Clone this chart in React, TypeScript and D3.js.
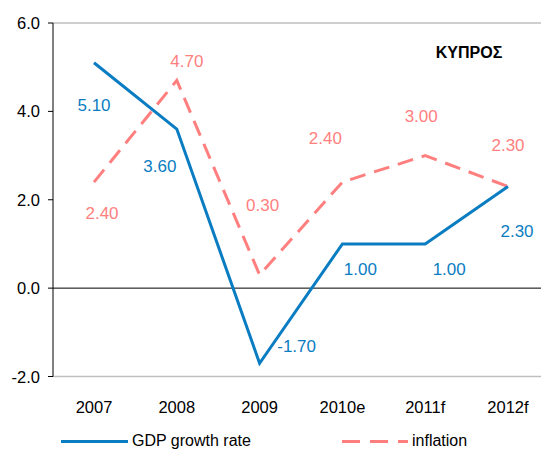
import React from "react";
import * as d3 from "d3";

const categories = ["2007", "2008", "2009", "2010e", "2011f", "2012f"];
const gdpGrowth = [5.1, 3.6, -1.7, 1.0, 1.0, 2.3];
const inflation = [2.4, 4.7, 0.3, 2.4, 3.0, 2.3];
const yTicks = [-2, 0, 2, 4, 6];
const seriesNames = ["GDP growth rate", "inflation"];
const title = "ΚΥΠΡΟΣ";

// label offsets (styling) relative to each point
const gdpLabelOffsets: [number, number][] = [
  [0, 43], [-17, 37], [37, -17], [18, 26], [24, 26], [9, 45],
];
const infLabelOffsets: [number, number][] = [
  [8, 31], [10, -19], [3, -69], [-17, -44], [-4, -39], [0, -41],
];

const W = 541;
const H = 457;
const BLUE = "#0A7DC2";
const PINK = "#FF7F7F";
const FONT = "'Liberation Sans', Arial, sans-serif";

export default function App() {
  const x = d3.scalePoint<string>().domain(categories).range([94, 508]);
  const y = d3.scaleLinear().domain([-2, 6]).range([376.5, 23]);
  const axisX = 53;
  const plotRight = 541;

  const line = d3
    .line<number>()
    .x((_, i) => x(categories[i]) as number)
    .y((d) => y(d));

  return (
    <svg
      width={W}
      height={H}
      style={{ position: "absolute", left: 0, top: 0, background: "#fff" }}
      fontFamily={FONT}
    >
      {/* gridlines at top and bottom */}
      <line x1={axisX} x2={plotRight} y1={y(6)} y2={y(6)} stroke="#BFBFBF" strokeWidth={1.5} />
      <line x1={axisX} x2={plotRight} y1={y(-2)} y2={y(-2)} stroke="#BFBFBF" strokeWidth={1.5} />
      {/* zero line */}
      <line x1={axisX} x2={plotRight} y1={y(0)} y2={y(0)} stroke="#000" strokeWidth={1} />
      {/* y axis */}
      <line x1={axisX} x2={axisX} y1={y(6)} y2={y(-2)} stroke="#000" strokeWidth={1} />
      {yTicks.map((t) => (
        <g key={t}>
          <line x1={axisX - 5} x2={axisX} y1={y(t)} y2={y(t)} stroke="#000" strokeWidth={1} />
          <text
            x={40}
            y={y(t)}
            textAnchor="end"
            dominantBaseline="central"
            fontSize={16.5}
            fill="#000"
          >
            {t.toFixed(1)}
          </text>
        </g>
      ))}
      {/* category labels */}
      {categories.map((c) => (
        <text
          key={c}
          x={x(c)}
          y={407}
          textAnchor="middle"
          dominantBaseline="central"
          fontSize={16.5}
          fill="#000"
        >
          {c}
        </text>
      ))}
      {/* series lines */}
      <path d={line(inflation) || ""} fill="none" stroke={PINK} strokeWidth={3} strokeDasharray="16,9" />
      <path d={line(gdpGrowth) || ""} fill="none" stroke={BLUE} strokeWidth={3} />
      {/* data labels */}
      {gdpGrowth.map((v, i) => (
        <text
          key={"g" + i}
          x={(x(categories[i]) as number) + gdpLabelOffsets[i][0]}
          y={y(v) + gdpLabelOffsets[i][1]}
          textAnchor="middle"
          dominantBaseline="central"
          fontSize={17}
          fill={BLUE}
        >
          {v.toFixed(2)}
        </text>
      ))}
      {inflation.map((v, i) => (
        <text
          key={"p" + i}
          x={(x(categories[i]) as number) + infLabelOffsets[i][0]}
          y={y(v) + infLabelOffsets[i][1]}
          textAnchor="middle"
          dominantBaseline="central"
          fontSize={17}
          fill={PINK}
        >
          {v.toFixed(2)}
        </text>
      ))}
      {/* title */}
      <text x={469} y={52} textAnchor="middle" dominantBaseline="central" fontSize={16} fontWeight="bold" fill="#000">
        {title}
      </text>
      {/* legend */}
      <line x1={61} x2={128} y1={441.5} y2={441.5} stroke={BLUE} strokeWidth={3} />
      <text x={132} y={440} dominantBaseline="central" fontSize={16} fill="#000">
        {seriesNames[0]}
      </text>
      <line x1={342} x2={408} y1={441.5} y2={441.5} stroke={PINK} strokeWidth={3} strokeDasharray="18,10" />
      <text x={412} y={440} dominantBaseline="central" fontSize={16} fill="#000">
        {seriesNames[1]}
      </text>
    </svg>
  );
}
